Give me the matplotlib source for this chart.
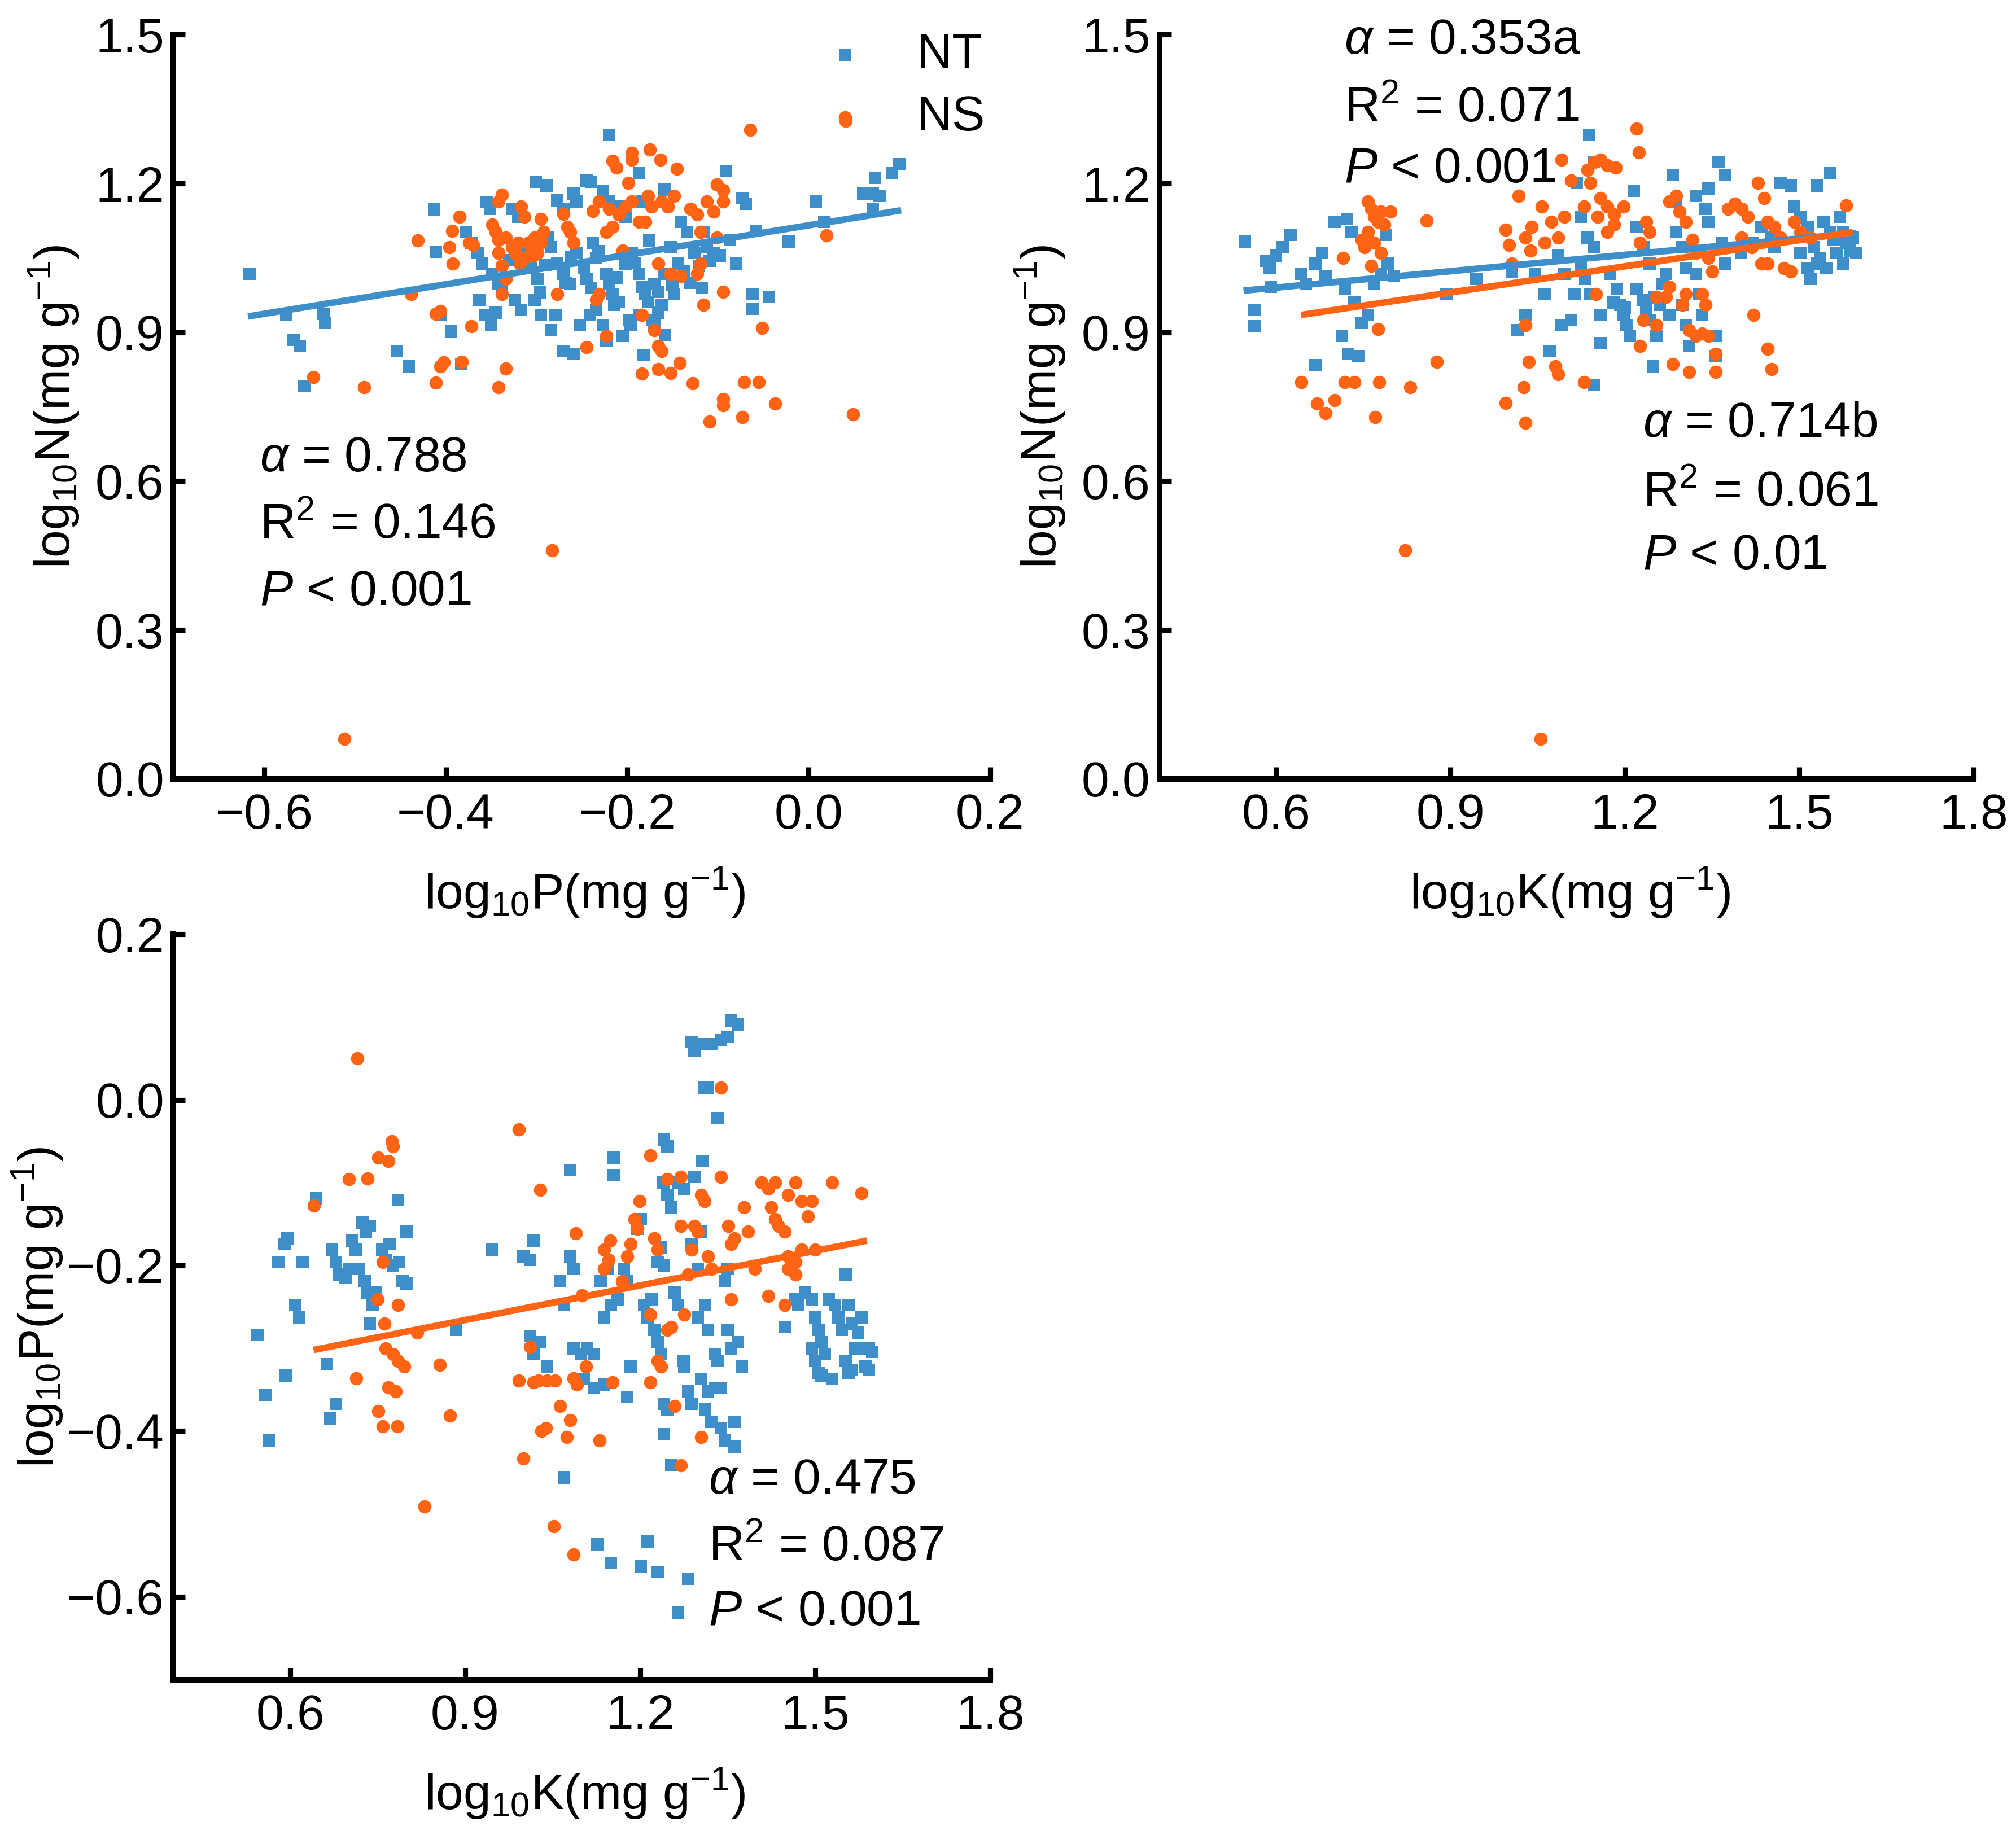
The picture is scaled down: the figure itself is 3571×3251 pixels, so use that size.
import matplotlib
matplotlib.use('Agg')
import matplotlib.pyplot as plt

plt.rcParams.update({
    'font.family': 'Liberation Sans',
    'font.size': 21,
    'mathtext.fontset': 'custom',
    'mathtext.rm': 'Liberation Sans',
    'mathtext.it': 'Liberation Sans:italic',
    'mathtext.default': 'regular',
    'axes.linewidth': 2.4,
    'axes.spines.top': False,
    'axes.spines.right': False,
})

BLUE = '#3E8FC9'
ORANGE = '#FF6414'

# ---- panel 1: log10P (x) vs log10N (y) ----
pn_nt_x = [-0.616, -0.576, -0.568, -0.561, -0.556, -0.535, -0.533, -0.454, -0.441,
           -0.220, -0.091, -0.187, -0.301, -0.289, -0.245, -0.240, -0.159, 0.008,
           -0.073, -0.069, 0.060, 0.071, 0.078, 0.073, 0.092, 0.100, 0.071, 0.017,
           -0.022, -0.058, -0.413, -0.355, -0.351, -0.327, -0.320, -0.277, -0.270,
           -0.259, -0.256, -0.227, -0.220, -0.207, -0.202, -0.184, -0.141, -0.134,
           -0.116, -0.112, -0.105, -0.087, -0.080,
           -0.411, -0.378, -0.372, -0.365, -0.360, -0.349, -0.342, -0.313, -0.309,
           -0.306, -0.299, -0.288, -0.284, -0.277, -0.270, -0.263, -0.256, -0.248,
           -0.245, -0.238, -0.234, -0.223, -0.220, -0.216, -0.209, -0.202, -0.195,
           -0.187, -0.184, -0.180, -0.177, -0.170, -0.166, -0.162, -0.159, -0.152,
           -0.144, -0.137, -0.126, -0.121, -0.109, -0.098, -0.062, -0.044, -0.062,
           -0.406, -0.394, -0.383, -0.363, -0.356, -0.350, -0.345, -0.324, -0.317,
           -0.302, -0.295, -0.284, -0.279, -0.270, -0.259, -0.252, -0.241, -0.234,
           -0.227, -0.223, -0.205, -0.198, -0.187, -0.182, -0.170, -0.166, -0.148,
           -0.330, -0.290, -0.262, -0.232, -0.212, -0.192, -0.176, -0.150, -0.130,
           -0.338, -0.296, -0.268, -0.240, -0.214, -0.196, -0.172, -0.158, -0.118]
pn_nt_y = [1.018, 0.935, 0.885, 0.872, 0.792, 0.937, 0.919, 0.862, 0.831,
           1.298, 1.225, 1.222, 1.203, 1.196, 1.206, 1.204, 1.188, 1.164,
           1.170, 1.159, 1.180, 1.180, 1.175, 1.212, 1.222, 1.239, 1.149, 1.123,
           1.083, 1.105, 1.148, 1.162, 1.149, 1.149, 1.133, 1.166, 1.149,
           1.180, 1.164, 1.185, 1.164, 1.154, 1.133, 1.164, 1.123, 1.102,
           1.102, 1.071, 1.060, 1.086, 1.039,
           1.062, 1.102, 1.081, 1.060, 1.039, 1.018, 0.998, 1.071, 1.050,
           1.029, 1.008, 1.091, 1.071, 1.039, 1.018, 0.998, 1.060, 1.029,
           1.008, 1.081, 1.050, 1.018, 0.998, 0.977, 0.961, 1.039, 1.060,
           1.018, 0.992, 0.977, 0.961, 0.998, 0.982, 0.956, 1.018, 1.071,
           1.039, 1.023, 1.060, 1.034, 1.044, 1.055, 0.977, 0.971, 0.947,
           0.935, 0.902, 0.836, 0.966, 0.935, 0.914, 0.940, 0.966, 0.945,
           0.966, 0.935, 0.904, 0.935, 0.862, 0.857, 0.914, 0.935, 0.945,
           0.914, 0.883, 0.893, 0.925, 0.935, 0.854, 0.914, 0.940, 0.977,
           1.045, 1.035, 1.052, 1.064, 1.010, 1.040, 1.085, 0.995, 1.000,
           0.985, 0.980, 1.000, 0.990, 0.955, 0.915, 0.925, 0.895, 0.990]

pn_ns_x = [-0.064, 0.041, -0.195, -0.175, -0.163, -0.145, -0.216, -0.212, -0.195,
           -0.199, -0.101, -0.094, -0.338, -0.342, -0.385, -0.393, -0.317, -0.313,
           -0.295, -0.292, -0.270, -0.266, -0.238, -0.231, -0.220, -0.209, -0.202,
           -0.195, -0.187, -0.180, -0.177, -0.173, -0.162, -0.155, -0.148, -0.130,
           -0.123, -0.119, -0.112, -0.105, -0.094, -0.101, -0.431, -0.396, -0.392,
           -0.374, -0.370, -0.349, -0.345, -0.342, -0.334, -0.327, -0.324, -0.320,
           -0.313, -0.309, -0.306, -0.302, -0.299, -0.295, -0.318, -0.304, -0.342,
           -0.338, -0.263, -0.259, -0.216, -0.223, -0.205, -0.119, -0.123, -0.152,
           -0.141, -0.166, 0.020, -0.438, -0.411, -0.406, -0.372, -0.338, -0.334,
           -0.277, -0.231, -0.234, -0.116, -0.094, -0.051, -0.184, -0.170, -0.166,
           -0.162, -0.223, -0.245, -0.402, -0.406, -0.382, -0.334, -0.411, -0.342,
           -0.546, -0.490, -0.184, -0.166, -0.152, -0.142, -0.128, -0.071, -0.055,
           -0.094, -0.094, -0.109, -0.073, -0.037, 0.049, -0.283, -0.512]
pn_ns_y = [1.308, 1.326, 1.261, 1.268, 1.248, 1.230, 1.246, 1.232, 1.248,
           1.201, 1.198, 1.187, 1.177, 1.164, 1.133, 1.104, 1.154, 1.133,
           1.128, 1.102, 1.139, 1.112, 1.144, 1.164, 1.149, 1.138, 1.154,
           1.164, 1.123, 1.123, 1.175, 1.154, 1.164, 1.154, 1.175, 1.149,
           1.138, 1.102, 1.164, 1.143, 1.164, 1.091, 1.085, 1.071, 1.039,
           1.081, 1.076, 1.117, 1.102, 1.086, 1.091, 1.071, 1.060, 1.081,
           1.050, 1.081, 1.071, 1.091, 1.060, 1.081, 1.039, 1.055, 1.060,
           1.034, 1.102, 1.081, 1.112, 1.102, 1.065, 1.039, 1.018, 1.018,
           1.013, 1.039, 1.095, 0.977, 0.937, 0.943, 0.912, 0.977, 1.008,
           0.977, 0.977, 0.966, 0.956, 0.982, 0.909, 0.935, 0.904, 0.872,
           0.862, 0.893, 0.870, 0.839, 0.831, 0.841, 0.827, 0.798, 0.789,
           0.810, 0.789, 0.817, 0.826, 0.818, 0.838, 0.797, 0.800, 0.800,
           0.766, 0.753, 0.720, 0.729, 0.756, 0.735, 0.461, 0.080]

# ---- panel 2: log10K (x) vs log10N (y) ----
kn_nt_x = [0.546, 0.563, 0.563, 0.583, 0.589, 0.591, 0.600, 0.611, 0.625, 0.643,
           0.651, 0.668, 0.679, 0.685, 0.701, 0.722, 0.730, 0.718, 0.735, 0.713,
           0.724, 0.741, 0.747, 0.758, 0.668, 0.769, 0.780, 0.792, 0.789, 0.803,
           0.893, 0.944, 1.006, 1.015, 1.029, 1.045, 1.062, 1.071, 1.085, 1.091,
           1.096, 1.108, 1.113, 1.117, 1.139, 1.147, 1.124, 1.136, 1.147, 1.124,
           1.132, 1.141, 1.158, 1.158, 1.147, 1.175, 1.186, 1.192, 1.198, 1.203,
           1.209, 1.215, 1.220, 1.220, 1.232, 1.237, 1.243, 1.248, 1.254, 1.232,
           1.243, 1.265, 1.271, 1.277, 1.282, 1.288, 1.288, 1.299, 1.305, 1.299,
           1.305, 1.311, 1.322, 1.327, 1.333, 1.339, 1.344, 1.356, 1.356, 1.361,
           1.373, 1.367, 1.373, 1.344, 1.322, 1.435, 1.452, 1.457, 1.468, 1.485,
           1.491, 1.502, 1.514, 1.502, 1.514, 1.519, 1.525, 1.530, 1.530, 1.553,
           1.542, 1.553, 1.559, 1.536, 1.547, 1.570, 1.576, 1.581, 1.587, 1.564,
           1.576, 1.592, 1.598, 1.180, 1.200, 1.250, 1.260, 1.400, 1.420]
kn_nt_y = [1.083, 0.945, 0.912, 1.044, 1.029, 0.992, 1.055, 1.071, 1.097, 1.018,
           0.998, 1.039, 1.060, 1.013, 1.123, 1.128, 1.102, 0.987, 0.961, 0.893,
           0.857, 0.852, 0.919, 0.935, 0.834, 0.998, 1.018, 1.039, 1.097, 1.013,
           0.977, 1.008, 1.023, 0.904, 0.935, 1.018, 0.977, 0.862, 1.055, 0.914,
           1.018, 0.925, 0.977, 1.201, 1.298, 1.243, 1.133, 1.091, 1.071, 1.039,
           1.008, 0.977, 0.935, 0.878, 0.794, 1.018, 0.987, 0.956, 0.935, 0.914,
           0.893, 1.185, 1.112, 0.987, 0.966, 0.945, 0.925, 0.831, 0.893, 1.071,
           1.039, 0.998, 1.018, 0.935, 1.217, 1.164, 1.102, 1.071, 1.029, 0.956,
           0.914, 0.872, 1.018, 0.977, 0.935, 1.149, 1.123, 0.893, 0.852, 1.243,
           1.217, 1.081, 1.039, 1.190, 1.175, 1.112, 1.091, 1.071, 1.201, 1.196,
           1.154, 1.133, 1.112, 1.060, 1.029, 1.008, 1.071, 1.039, 1.196, 1.222,
           1.123, 1.102, 1.086, 1.050, 1.029, 1.133, 1.102, 1.081, 1.065, 1.060,
           1.039, 1.091, 1.060, 0.960, 0.950, 0.970, 0.955, 1.060, 1.080]

kn_ns_x = [0.643, 0.671, 0.685, 0.701, 0.718, 0.735, 0.771, 0.777, 0.775, 0.831,
           0.876, 0.822, 0.715, 0.747, 0.752, 0.758, 0.764, 0.769, 0.775, 0.780,
           0.786, 0.797, 0.758, 0.769, 0.780, 0.764, 0.859, 0.995, 1.001, 1.006,
           1.017, 1.029, 1.038, 1.040, 1.057, 1.062, 1.074, 1.085, 1.096, 1.091,
           1.108, 1.130, 1.136, 1.147, 1.158, 1.170, 1.184, 1.141, 1.158, 1.170,
           1.181, 1.153, 1.170, 1.181, 1.198, 1.220, 1.224, 1.226, 1.237, 1.243,
           1.277, 1.288, 1.294, 1.305, 1.316, 1.322, 1.344, 1.350, 1.254, 1.271,
           1.277, 1.299, 1.305, 1.333, 1.339, 1.232, 1.226, 1.254, 1.311, 1.322,
           1.333, 1.344, 1.282, 1.311, 1.356, 1.356, 1.029, 1.035, 1.026, 1.029,
           0.995, 1.080, 1.085, 1.130, 1.150, 1.378, 1.389, 1.401, 1.412, 1.429,
           1.440, 1.446, 1.457, 1.468, 1.418, 1.435, 1.446, 1.474, 1.485, 1.491,
           1.502, 1.519, 1.581, 1.421, 1.446, 1.452, 1.055, 1.401, 1.412]
kn_ns_y = [0.800, 0.756, 0.737, 0.763, 0.800, 0.800, 0.729, 0.800, 0.906, 0.789,
           0.841, 0.461, 1.050, 1.086, 1.071, 1.164, 1.149, 1.133, 1.123, 1.143,
           1.117, 1.143, 1.102, 1.081, 1.060, 1.034, 1.125, 1.107, 1.076, 1.039,
           1.175, 1.091, 1.065, 1.112, 1.154, 1.081, 1.123, 1.091, 1.133, 1.248,
           1.206, 1.154, 1.227, 1.243, 1.248, 1.237, 1.232, 1.201, 1.170, 1.154,
           1.138, 1.133, 1.102, 1.117, 1.154, 1.310, 1.263, 1.081, 1.123, 1.102,
           1.164, 1.175, 1.143, 1.123, 1.086, 1.060, 1.050, 1.023, 0.971, 0.971,
           0.992, 0.956, 0.977, 0.977, 0.956, 0.925, 0.872, 0.914, 0.904, 0.893,
           0.898, 0.893, 0.836, 0.820, 0.857, 0.820, 0.914, 0.841, 0.789, 0.718,
           0.758, 0.831, 0.815, 0.800, 0.977, 1.149, 1.159, 1.149, 1.133, 1.201,
           1.170, 1.123, 1.112, 1.091, 1.071, 1.039, 1.039, 1.029, 1.023, 1.123,
           1.102, 1.091, 1.156, 0.935, 0.867, 0.826, 0.080, 1.091, 1.076]

# ---- panel 3: log10K (x) vs log10P (y) ----
kp_nt_x = [0.544, 0.557, 0.563, 0.580, 0.590, 0.595, 0.609, 0.615, 0.621, 0.592,
           0.644, 0.663, 0.669, 0.678, 0.672, 0.678, 0.684, 0.695, 0.701, 0.705,
           0.712, 0.724, 0.730, 0.736, 0.718, 0.728, 0.732, 0.741, 0.747, 0.758,
           0.764, 0.770, 0.776, 0.785, 0.787, 0.793, 0.799, 0.799, 0.736, 0.885,
           0.946, 1.000, 1.011, 1.017, 1.011, 1.017, 1.029, 1.040, 1.063, 1.069,
           1.069, 1.080, 1.080, 1.086, 1.086, 1.098, 1.109, 1.121, 1.103, 1.121,
           1.138, 1.127, 1.150, 1.132, 1.144, 1.138, 1.150, 1.161, 1.155, 1.155,
           1.172, 1.178, 1.178, 1.184, 1.195, 1.201, 1.201, 1.213, 1.207, 1.213,
           1.219, 1.224, 1.230, 1.236, 1.230, 1.236, 1.241, 1.230, 1.241, 1.247,
           1.240, 1.247, 1.253, 1.241, 1.247, 1.241, 1.253, 1.259, 1.265, 1.265,
           1.276, 1.265, 1.275, 1.276, 1.282, 1.288, 1.282, 1.288, 1.293, 1.305,
           1.322, 1.339, 1.350, 1.356, 1.368, 1.310, 1.316, 1.333, 1.288, 1.299,
           1.305, 1.293, 1.307, 1.299, 1.311, 1.316, 1.305, 1.316, 1.328, 1.339,
           1.328, 1.333, 1.311, 1.322, 1.339, 1.345, 1.350, 1.356, 1.362, 1.362,
           1.368, 1.374, 1.345, 1.350, 1.448, 1.466, 1.471, 1.483, 1.494, 1.500,
           1.506, 1.511, 1.517, 1.506, 1.511, 1.529, 1.523, 1.534, 1.540, 1.546,
           1.552, 1.557, 1.563, 1.552, 1.557, 1.563, 1.569, 1.580, 1.592, 1.598,
           1.586, 1.592, 1.580, 1.574, 1.494, 1.500]
kp_nt_y = [-0.284, -0.356, -0.411, -0.196, -0.174, -0.167, -0.248, -0.263, -0.196, -0.333,
           -0.119, -0.319, -0.385, -0.367, -0.181, -0.196, -0.211, -0.215, -0.204, -0.170,
           -0.181, -0.148, -0.159, -0.152, -0.204, -0.219, -0.233, -0.248, -0.233, -0.181,
           -0.193, -0.174, -0.200, -0.121, -0.196, -0.219, -0.222, -0.159, -0.270, -0.278,
           -0.181, -0.189, -0.193, -0.170, -0.285, -0.307, -0.293, -0.322, -0.219, -0.248,
           -0.456, -0.085, -0.189, -0.204, -0.300, -0.307, -0.300, -0.307, -0.337, -0.348,
           -0.344, -0.537, -0.559, -0.219, -0.204, -0.263, -0.248, -0.241, -0.091, -0.070,
           -0.204, -0.219, -0.359, -0.322, -0.156, -0.144, -0.563, -0.533, -0.248, -0.263,
           -0.241, -0.278, -0.293, -0.307, -0.196, -0.178, -0.200, -0.570, -0.048, -0.056,
           -0.100, -0.115, -0.130, -0.367, -0.374, -0.404, -0.441, -0.233, -0.248, -0.100,
           -0.107, -0.619, -0.315, -0.322, -0.352, -0.367, -0.578, 0.070, 0.059, 0.067,
           0.067, 0.072, 0.076, 0.096, 0.091, 0.015, 0.015, -0.022, -0.174, -0.204,
           -0.159, -0.093, -0.074, -0.263, -0.248, -0.278, -0.337, -0.352, -0.348, -0.348,
           -0.307, -0.315, -0.374, -0.389, -0.396, -0.411, -0.278, -0.300, -0.389, -0.419,
           -0.293, -0.322, -0.219, -0.204, -0.274, -0.241, -0.248, -0.233, -0.241, -0.263,
           -0.278, -0.293, -0.307, -0.330, -0.333, -0.337, -0.241, -0.248, -0.263, -0.278,
           -0.211, -0.248, -0.270, -0.315, -0.330, -0.326, -0.300, -0.300, -0.300, -0.304,
           -0.322, -0.326, -0.263, -0.281, -0.300, -0.315]

kp_ns_x = [0.715, 0.641, 0.701, 0.733, 0.751, 0.768, 0.776, 0.774, 0.759, 0.750,
           0.785, 0.762, 0.713, 0.764, 0.776, 0.785, 0.795, 0.768, 0.781, 0.751,
           0.759, 0.784, 0.818, 0.856, 0.874, 0.830, 0.992, 1.029, 1.011, 1.017,
           0.992, 1.000, 1.026, 1.040, 1.054, 1.031, 1.038, 1.063, 1.080, 1.074,
           1.086, 1.092, 1.052, 1.086, 1.090, 1.100, 1.107, 1.130, 1.138, 1.146,
           1.138, 1.149, 1.153, 1.169, 1.178, 1.184, 1.190, 1.195, 1.199, 1.218,
           1.224, 1.230, 1.218, 1.230, 1.236, 1.218, 1.247, 1.253, 1.247, 1.270,
           1.259, 1.270, 1.276, 1.282, 1.288, 1.293, 1.299, 1.305, 1.310, 1.305,
           1.316, 1.322, 1.339, 1.339, 1.351, 1.356, 1.362, 1.356, 1.378, 1.385,
           1.397, 1.408, 1.420, 1.431, 1.425, 1.431, 1.437, 1.448, 1.420, 1.448,
           1.454, 1.466, 1.477, 1.454, 1.466, 1.477, 1.488, 1.494, 1.500, 1.529,
           1.580, 1.454, 1.466, 1.270]
kp_ns_y = [0.050, -0.128, -0.096, -0.095, -0.070, -0.074, -0.056, -0.050, -0.196, -0.241,
           -0.248, -0.270, -0.336, -0.300, -0.307, -0.315, -0.322, -0.347, -0.352, -0.376,
           -0.394, -0.394, -0.281, -0.320, -0.381, -0.491, -0.036, -0.109, -0.298, -0.341,
           -0.339, -0.433, -0.339, -0.339, -0.339, -0.400, -0.396, -0.370, -0.387, -0.407,
           -0.336, -0.344, -0.515, -0.549, -0.161, -0.236, -0.322, -0.411, -0.181, -0.193,
           -0.204, -0.170, -0.341, -0.219, -0.189, -0.174, -0.144, -0.156, -0.122, -0.067,
           -0.167, -0.181, -0.259, -0.315, -0.322, -0.341, -0.278, -0.274, -0.096, -0.093,
           -0.370, -0.441, -0.259, -0.211, -0.181, -0.152, -0.159, -0.115, -0.122, -0.407,
           -0.189, -0.204, 0.015, -0.093, -0.152, -0.174, -0.167, -0.241, -0.130, -0.159,
           -0.204, -0.100, -0.107, -0.100, -0.130, -0.144, -0.152, -0.159, -0.237, -0.248,
           -0.115, -0.100, -0.122, -0.189, -0.196, -0.181, -0.141, -0.122, -0.181, -0.100,
           -0.113, -0.204, -0.211, -0.152]

# fitted lines: (x_start, x_end), (y_start, y_end)
pn_fit_nt = ([-0.618, 0.102], [0.932, 1.146])
kn_fit_nt = ([0.544, 1.598], [0.984, 1.100])
kn_fit_ns = ([0.643, 1.592], [0.935, 1.102])
kp_fit_ns = ([0.640, 1.589], [-0.302, -0.170])

fig = plt.figure(figsize=(3571 / 300, 3251 / 300), dpi=300)
ax1 = fig.add_axes([0.0861, 0.5756, 0.405, 0.4055])
ax2 = fig.add_axes([0.5753, 0.5756, 0.4037, 0.4055])
ax3 = fig.add_axes([0.0861, 0.0847, 0.405, 0.4062])


def draw(ax, nt_x, nt_y, ns_x, ns_y, fits):
    ax.scatter(nt_x, nt_y, marker='s', s=28, color=BLUE, linewidths=0, label='NT', zorder=2)
    ax.scatter(ns_x, ns_y, marker='o', s=32, color=ORANGE, linewidths=0, label='NS', zorder=3)
    for (xs, ys), c in fits:
        ax.plot(xs, ys, color=c, lw=2.8, zorder=4, solid_capstyle='butt')
    ax.tick_params(direction='in', length=5, width=2.2, labelsize=21)
    ax.tick_params(axis='x', pad=6)
    ax.tick_params(axis='y', pad=4)


def style_labels(ax, xlabel, ylabel, ylx):
    ax.set_xlabel(xlabel, fontsize=21)
    ax.set_ylabel(ylabel, fontsize=21)
    ax.xaxis.set_label_coords(0.504, -0.153)
    ax.xaxis.label.set_va('center')
    ax.yaxis.set_label_coords(ylx, 0.5)
    ax.yaxis.label.set_va('center')


def fmt(v):
    s = '%.1f' % v
    return s.replace('-', '\u2212')


# panel 1
draw(ax1, pn_nt_x, pn_nt_y, pn_ns_x, pn_ns_y, [(pn_fit_nt, BLUE)])
ax1.set_xlim(-0.7, 0.2)
ax1.set_ylim(0, 1.5)
ax1.set_xticks([-0.6, -0.4, -0.2, 0.0, 0.2])
ax1.set_xticklabels([fmt(v) for v in [-0.6, -0.4, -0.2, 0.0, 0.2]])
ax1.set_yticks([0.0, 0.3, 0.6, 0.9, 1.2, 1.5])
ax1.set_yticklabels([fmt(v) for v in [0.0, 0.3, 0.6, 0.9, 1.2, 1.5]])
style_labels(ax1, r'log$_{10}$P(mg g$^{-1}$)', r'log$_{10}$N(mg g$^{-1}$)', -0.146)
ax1.text(-0.605, 0.645, r'$\mathit{\alpha}$ = 0.788', va='center', fontsize=21)
ax1.text(-0.605, 0.510, r'R$^2$ = 0.146', va='center', fontsize=21)
ax1.text(-0.605, 0.376, r'$\mathit{P}$ < 0.001', va='center', fontsize=21)
ax1.legend(loc='upper left', bbox_to_anchor=(0.768, 1.03), frameon=False,
           handlelength=1.0, handletextpad=0.95, labelspacing=0.34,
           fontsize=21, borderaxespad=0)

# panel 2
draw(ax2, kn_nt_x, kn_nt_y, kn_ns_x, kn_ns_y, [(kn_fit_nt, BLUE), (kn_fit_ns, ORANGE)])
ax2.set_xlim(0.4, 1.8)
ax2.set_ylim(0, 1.5)
ax2.set_xticks([0.6, 0.9, 1.2, 1.5, 1.8])
ax2.set_xticklabels([fmt(v) for v in [0.6, 0.9, 1.2, 1.5, 1.8]])
ax2.set_yticks([0.0, 0.3, 0.6, 0.9, 1.2, 1.5])
ax2.set_yticklabels([fmt(v) for v in [0.0, 0.3, 0.6, 0.9, 1.2, 1.5]])
style_labels(ax2, r'log$_{10}$K(mg g$^{-1}$)', r'log$_{10}$N(mg g$^{-1}$)', -0.147)
ax2.text(0.717, 1.487, r'$\mathit{\alpha}$ = 0.353a', va='center', fontsize=21)
ax2.text(0.717, 1.350, r'R$^2$ = 0.071', va='center', fontsize=21)
ax2.text(0.717, 1.228, r'$\mathit{P}$ < 0.001', va='center', fontsize=21)
ax2.text(1.231, 0.715, r'$\mathit{\alpha}$ = 0.714b', va='center', fontsize=21)
ax2.text(1.231, 0.575, r'R$^2$ = 0.061', va='center', fontsize=21)
ax2.text(1.231, 0.448, r'$\mathit{P}$ < 0.01', va='center', fontsize=21)

# panel 3
draw(ax3, kp_nt_x, kp_nt_y, kp_ns_x, kp_ns_y, [(kp_fit_ns, ORANGE)])
ax3.set_xlim(0.4, 1.8)
ax3.set_ylim(-0.7, 0.2)
ax3.set_xticks([0.6, 0.9, 1.2, 1.5, 1.8])
ax3.set_xticklabels([fmt(v) for v in [0.6, 0.9, 1.2, 1.5, 1.8]])
ax3.set_yticks([-0.6, -0.4, -0.2, 0.0, 0.2])
ax3.set_yticklabels([fmt(v) for v in [-0.6, -0.4, -0.2, 0.0, 0.2]])
style_labels(ax3, r'log$_{10}$K(mg g$^{-1}$)', r'log$_{10}$P(mg g$^{-1}$)', -0.166)
ax3.text(1.317, -0.460, r'$\mathit{\alpha}$ = 0.475', va='center', fontsize=21)
ax3.text(1.317, -0.541, r'R$^2$ = 0.087', va='center', fontsize=21)
ax3.text(1.317, -0.619, r'$\mathit{P}$ < 0.001', va='center', fontsize=21)

fig.savefig('out.png', dpi=300)
